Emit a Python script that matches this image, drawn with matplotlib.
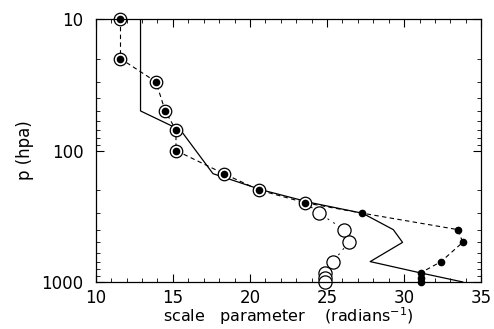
import numpy as np
import matplotlib.pyplot as plt
from matplotlib.ticker import FixedLocator, NullFormatter

#----------Datos--------------------------------------------

# circulos con punto (linea discontinua)
p_circ = [10, 20, 30, 50, 70, 100, 150, 200, 250]
s_circ = [11.6, 11.6, 13.9, 14.5, 15.2, 15.2, 18.3, 20.6, 23.6]

# circulos abiertos
p_open = [250, 300, 400, 500, 700, 850, 925, 1000]
s_open = [23.6, 24.5, 26.1, 26.4, 25.4, 24.9, 24.9, 24.9]

# puntos negros (linea discontinua)
p_dot = [250, 300, 400, 500, 700, 850, 925, 1000]
s_dot = [23.6, 27.3, 33.5, 33.8, 32.4, 31.1, 31.1, 31.1]

# linea continua
p_sol = [10, 50, 70, 150, 200, 250, 300, 400, 500, 700, 850, 1000]
s_sol = [12.9, 12.9, 15.5, 17.6, 20.8, 24.0, 27.3, 29.3, 29.9, 27.8, 31.0, 33.8]

#-------Ploteo----------------------------------------

plt.rcParams['font.family'] = ['DejaVu Sans']

fig = plt.figure(figsize=(4.94, 3.29), dpi=100)
ax = fig.add_axes([0.194, 0.143, 0.780, 0.799])

ax.plot(s_sol, p_sol, '-', color='black', lw=0.9)
ax.plot(s_circ, p_circ, '--', color='black', lw=0.8, dashes=(4, 3))
ax.plot(s_dot, p_dot, '--', color='black', lw=0.8, dashes=(4, 3))
ax.plot(s_open, p_open, '--', color='black', lw=0.7, dashes=(2, 5))

ax.plot(s_circ, p_circ, 'o', ms=9, mfc='white', mec='black', mew=0.9, clip_on=False)
ax.plot(s_circ, p_circ, 'o', ms=4.5, color='black', clip_on=False)
ax.plot(s_open[1:], p_open[1:], 'o', ms=9.5, mfc='white', mec='black', mew=0.9, clip_on=False)
ax.plot(s_dot[1:], p_dot[1:], 'o', ms=4.5, color='black', clip_on=False)

ax.set_yscale('log')
ax.set_ylim(1000, 10)
ax.set_xlim(10, 35)

ax.set_xticks([10, 15, 20, 25, 30, 35])
ax.xaxis.set_minor_locator(FixedLocator(np.arange(10, 36, 1)))
ax.set_yticks([10, 100, 1000])
ax.set_yticklabels(['10', '100', '1000'])
ax.yaxis.set_minor_formatter(NullFormatter())

ax.tick_params(which='both', direction='in', top=True, right=True, labelsize=12)
ax.tick_params(axis='x', pad=5)
ax.tick_params(axis='y', pad=9)
ax.tick_params(which='major', length=6, width=0.8)
ax.tick_params(which='minor', length=3, width=0.6)

ax.set_xlabel('scale   parameter    (radians$^{-1}$)', fontsize=11.5, labelpad=-1)
ax.set_ylabel('p (hpa)', fontsize=12, labelpad=5)

for s in ax.spines.values():
    s.set_linewidth(0.9)

fig.savefig('out.png', dpi=100)
